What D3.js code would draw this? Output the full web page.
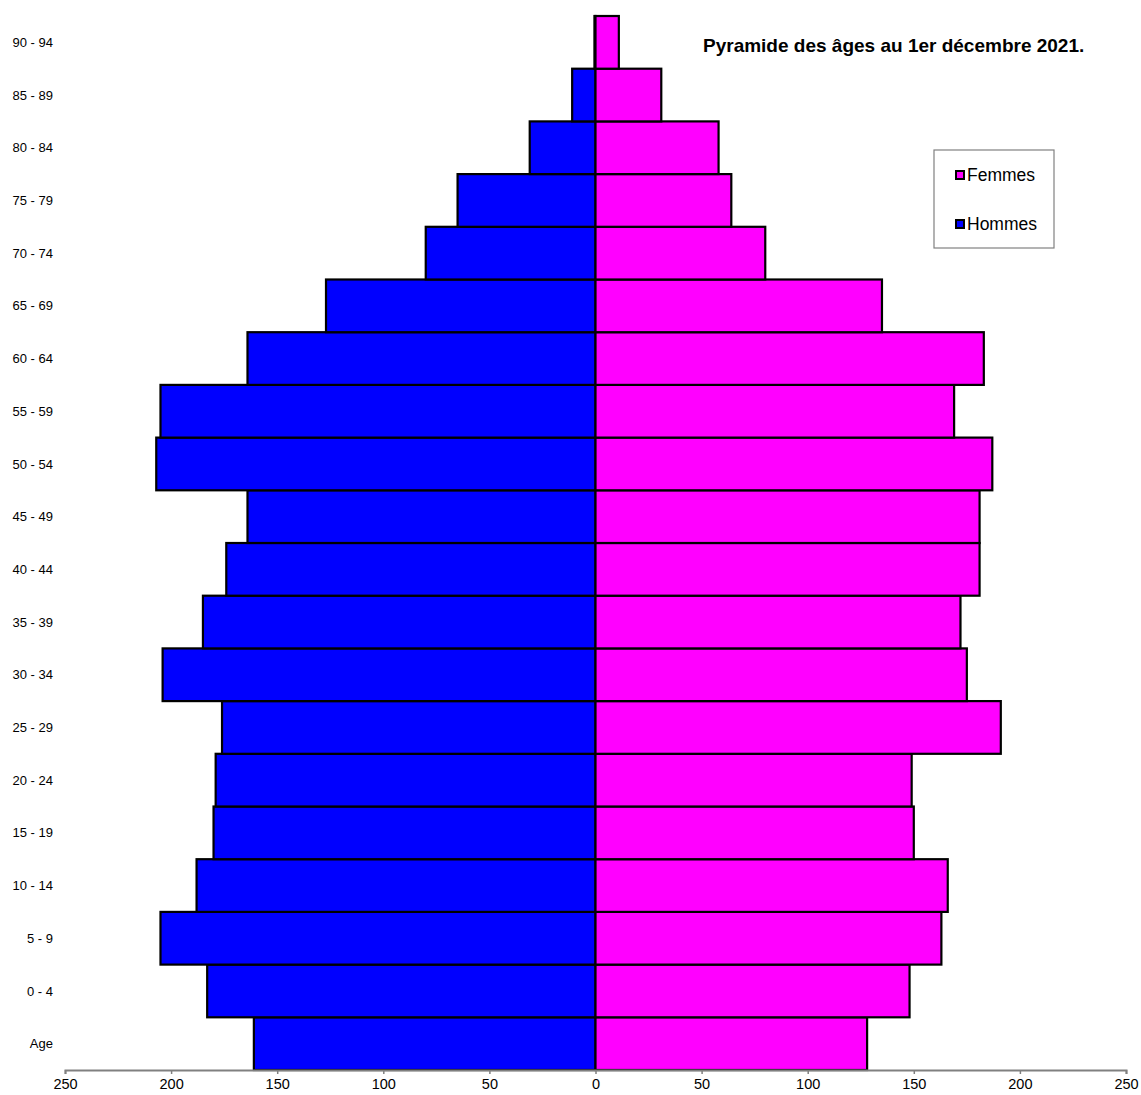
<!DOCTYPE html>
<html>
<head>
<meta charset="utf-8">
<script src="https://cdn.jsdelivr.net/npm/d3@7"></script>
<style>
  body { margin: 0; background: #fff; }
  text { font-family: "Liberation Sans", Arial, sans-serif; }
</style>
</head>
<body>
<svg id="chart" width="1141" height="1095"></svg>
<script>
// age groups, bottom to top
var ages = ["Age", "0 - 4", "5 - 9", "10 - 14", "15 - 19", "20 - 24", "25 - 29", "30 - 34",
            "35 - 39", "40 - 44", "45 - 49", "50 - 54", "55 - 59", "60 - 64", "65 - 69",
            "70 - 74", "75 - 79", "80 - 84", "85 - 89", "90 - 94"];
var hommes = [161, 183, 205, 188, 180, 179, 176, 204, 185, 174, 164, 207, 205, 164, 127, 80, 65, 31, 11, 0.5];
var femmes = [128, 148, 163, 166, 150, 149, 191, 175, 172, 181, 181, 187, 169, 183, 135, 80, 64, 58, 31, 11];
var xTicks = [-250, -200, -150, -100, -50, 0, 50, 100, 150, 200, 250];

var svg = d3.select("#chart");

var margin = {top: 16, right: 15, bottom: 25, left: 65},
    width = 1141 - margin.left - margin.right,
    height = 1095 - margin.top - margin.bottom;

var g = svg.append("g").attr("transform", "translate(" + margin.left + "," + margin.top + ")");

var x = d3.scaleLinear().domain([-250, 250]).range([0, width]);
// reverse so "Age" sits at the bottom
var y = d3.scaleBand().domain(ages.slice().reverse()).range([0, height]).padding(0);

var rows = ages.map(function(a, i) { return {age: a, h: hommes[i], f: femmes[i]}; });

// men bars (left)
g.selectAll(".bar-h")
  .data(rows)
  .enter().append("rect")
  .attr("class", "bar-h")
  .attr("x", d => x(-d.h))
  .attr("y", d => y(d.age))
  .attr("width", d => x(0) - x(-d.h))
  .attr("height", y.bandwidth())
  .style("fill", "#0000ff")
  .style("stroke", "#000")
  .style("stroke-width", 2.2);

// women bars (right)
g.selectAll(".bar-f")
  .data(rows)
  .enter().append("rect")
  .attr("class", "bar-f")
  .attr("x", x(0))
  .attr("y", d => y(d.age))
  .attr("width", d => x(d.f) - x(0))
  .attr("height", y.bandwidth())
  .style("fill", "#ff00ff")
  .style("stroke", "#000")
  .style("stroke-width", 2.2);

// x axis
var xAxis = g.append("g")
  .attr("transform", "translate(0," + height + ")")
  .call(d3.axisBottom(x).tickValues(xTicks).tickSize(4).tickPadding(5)
        .tickFormat(d => Math.abs(d)));
xAxis.select(".domain").attr("stroke", "#808080").attr("stroke-width", 2);
xAxis.selectAll(".tick line").attr("stroke", "#808080").attr("stroke-width", 1.5);
xAxis.selectAll(".tick text").attr("fill", "#000").style("font-size", "14.5px")
  .style("font-family", "Liberation Sans, Arial, sans-serif");

// age labels
g.selectAll(".age-label")
  .data(rows)
  .enter().append("text")
  .attr("class", "age-label")
  .attr("x", -12)
  .attr("y", d => y(d.age) + y.bandwidth() / 2)
  .attr("dy", "0.35em")
  .attr("text-anchor", "end")
  .style("font-size", "13px")
  .text(d => d.age);

// title
svg.append("text")
  .attr("x", 703)
  .attr("y", 52)
  .style("font-size", "19px")
  .style("font-weight", "bold")
  .text("Pyramide des âges au 1er décembre 2021.");

// legend
var legend = svg.append("g").attr("transform", "translate(934,150)");
legend.append("rect")
  .attr("width", 120).attr("height", 98)
  .style("fill", "#fff").style("stroke", "#808080").style("stroke-width", 1.2);

var legendItems = [{label: "Femmes", color: "#ff00ff"}, {label: "Hommes", color: "#0000ff"}];
var li = legend.selectAll(".item").data(legendItems).enter().append("g")
  .attr("transform", (d, i) => "translate(22," + (21 + i * 49) + ")");
li.append("rect")
  .attr("width", 8).attr("height", 8)
  .style("fill", d => d.color).style("stroke", "#000").style("stroke-width", 2);
li.append("text")
  .attr("x", 11).attr("y", 4).attr("dy", "0.35em")
  .style("font-size", "17.5px")
  .text(d => d.label);
</script>
</body>
</html>
